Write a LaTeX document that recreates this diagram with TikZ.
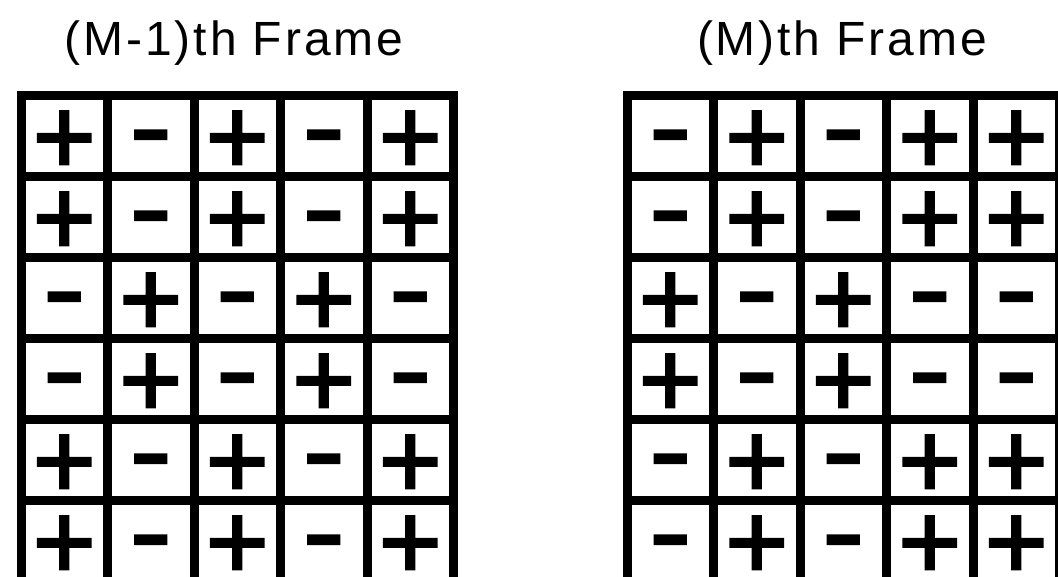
\documentclass[tikz,border=0pt]{standalone}
\usepackage{fontspec}
\setmainfont{Liberation Sans}
\newfontfamily\titlefont[LetterSpace=6]{Liberation Sans}
\newfontfamily\signfont[FakeBold=2.2]{Liberation Sans}
\newcommand{\psign}{+}
\newcommand{\msign}{\raisebox{0.095em}{\scalebox{1.15}[1]{-}}}

\begin{document}
\begin{tikzpicture}[x=1pt, y=-1pt,
  title/.style={font=\titlefont\fontsize{48}{52}\selectfont, anchor=base, inner sep=0pt},
  sign/.style={font=\signfont\fontsize{108}{108}\selectfont, anchor=center,
    inner sep=0pt, text height=76.5pt, text depth=0pt},
  rule/.style={line width=9pt, line cap=rect}
]
\useasboundingbox (0,0) rectangle (1058,576);

% (M-1)th frame
\begin{scope}[xshift=21pt]
\node[title] (oldtitle) at (213,55) {(M-1)th Frame};
\foreach \k in {0,...,5}
  \draw[rule] (86.5*\k,95) -- (86.5*\k,581);
\foreach \k in {0,...,6}
  \draw[rule] (0,95+81*\k) -- (432.5,95+81*\k);
\foreach \signs [count=\r] in {
    {\psign,\msign,\psign,\msign,\psign},
    {\psign,\msign,\psign,\msign,\psign},
    {\msign,\psign,\msign,\psign,\msign},
    {\msign,\psign,\msign,\psign,\msign},
    {\psign,\msign,\psign,\msign,\psign},
    {\psign,\msign,\psign,\msign,\psign}}
  \foreach \s [count=\c] in \signs
    \node[sign] (old-\r-\c) at ({86.5*(\c-0.5)},{95+81*(\r-0.5)}) {\s};
\end{scope}

% (M)th frame
\begin{scope}[xshift=627pt]
\node[title] (curtitle) at (215,55) {(M)th Frame};
\foreach \k in {0,...,5}
  \draw[rule] (86.5*\k,95) -- (86.5*\k,581);
\foreach \k in {0,...,6}
  \draw[rule] (0,95+81*\k) -- (432.5,95+81*\k);
\foreach \signs [count=\r] in {
    {\msign,\psign,\msign,\psign,\psign},
    {\msign,\psign,\msign,\psign,\psign},
    {\psign,\msign,\psign,\msign,\msign},
    {\psign,\msign,\psign,\msign,\msign},
    {\msign,\psign,\msign,\psign,\psign},
    {\msign,\psign,\msign,\psign,\psign}}
  \foreach \s [count=\c] in \signs
    \node[sign] (cur-\r-\c) at ({86.5*(\c-0.5)},{95+81*(\r-0.5)}) {\s};
\end{scope}
\end{tikzpicture}
\end{document}
